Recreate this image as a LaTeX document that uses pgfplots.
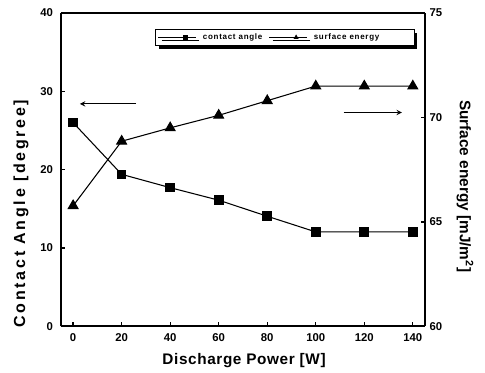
\documentclass[border=0pt]{standalone}
\usepackage{pgfplots}
\pgfplotsset{compat=1.18}
\usepackage{fontspec}
\setmainfont{Liberation Sans}
\usetikzlibrary{shadows}
\begin{document}
\begin{tikzpicture}
\begin{axis}[
  scale only axis, width=273pt, height=235pt,
  xmin=-5, xmax=145, ymin=0, ymax=40,
  xtick={0,20,...,140}, ytick={0,10,...,40},
  axis y line*=left, axis x line*=bottom,
  axis line style={line width=1.3pt, -},
  tick style={line width=1pt, black},
  major tick length=3pt,
  tick label style={font=\bfseries\fontsize{8.5}{10}\selectfont},
  yticklabel style={xshift=-2.5pt},
  xticklabel style={yshift=-2pt},
  /pgf/number format/assume math mode=true,
  xlabel={Discharge Power [W]},
  xlabel style={at={(axis description cs:0.503,-0.108)}, anchor=center, font=\bfseries\fontsize{11.5}{13}\selectfont\addfontfeatures{LetterSpace=4}},
  ylabel={Contact Angle [degree]},
  ylabel style={at={(axis description cs:-0.11,0.36)}, anchor=center, font=\bfseries\fontsize{12}{13}\selectfont\addfontfeatures{LetterSpace=17}},
  clip=false,
]
\addplot[black, line width=0.8pt, mark=square*, mark size=3.2pt, mark options={solid}] coordinates {
(0,26) (20,19.4) (40,17.7) (60,16.1) (80,14.05) (100,12.05) (120,12.05) (140,12.05)};
\draw[->, line width=0.8pt, >=stealth] (axis cs:26,28.4) -- (axis cs:2.8,28.4);
\draw[->, line width=0.8pt, >=stealth] (axis cs:111.5,27.3) -- (axis cs:135.5,27.3);
\path (rel axis cs:-0.1676,-0.147) rectangle (rel axis cs:1.165,1.0415);
\end{axis}
\begin{axis}[
  scale only axis, width=273pt, height=235pt,
  xmin=-5, xmax=145, ymin=60, ymax=75,
  ytick={60,65,70,75},
  axis y line*=right, axis x line*=top,
  xtick=\empty,
  axis line style={line width=1.3pt, -},
  tick style={line width=1pt, black},
  major tick length=3pt,
  tick label style={font=\bfseries\fontsize{8.5}{10}\selectfont},
  /pgf/number format/assume math mode=true,
  ylabel={Surface energy [mJ/m$^{\mathbf{2}}$]},
  ylabel style={at={(axis description cs:1.11,0.447)}, anchor=center, rotate=180, font=\bfseries\fontsize{11.5}{13}\selectfont},
  legend style={at={(0.258,0.949)}, anchor=north west, draw=black, line width=0.8pt,
    font=\bfseries\fontsize{6}{6.5}\selectfont\addfontfeatures{LetterSpace=9}, legend columns=2, inner xsep=2pt, inner ysep=1pt,
    /tikz/every odd column/.append style={column sep=3pt},
    /tikz/every even column/.append style={column sep=3pt},
    drop shadow={shadow xshift=2.5pt, shadow yshift=-2.5pt, fill=black, opacity=1}},
  legend image code/.code={\path (0pt,0pt) -- (28pt,0pt); \draw[mark repeat=2, mark phase=2, #1] plot coordinates {(12pt,0pt) (20pt,0pt) (28pt,0pt)};},
  legend image post style={mark size=1.6pt, line width=0.6pt},
  legend cell align=left,
]
\addlegendimage{black, mark=square*}
\addlegendentry{contact angle}
\addplot[black, line width=0.8pt, mark=triangle*, mark size=4.2pt] coordinates {
(0,65.77) (20,68.86) (40,69.5) (60,70.1) (80,70.8) (100,71.5) (120,71.5) (140,71.5)};
\addlegendentry{surface energy\hspace*{22pt}}
\end{axis}
\end{tikzpicture}
\end{document}
